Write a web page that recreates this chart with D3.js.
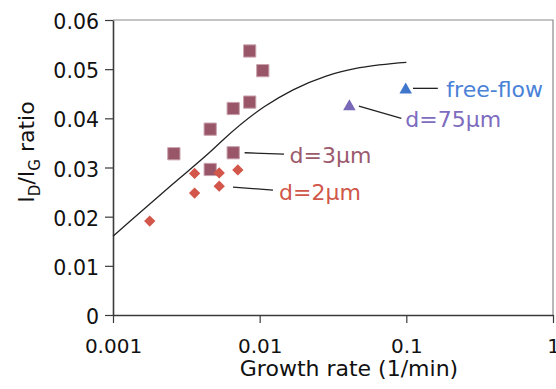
<!DOCTYPE html>
<html lang="en">
<head>
<meta charset="UTF-8">
<script src="https://d3js.org/d3.v7.min.js"></script>
<style>
  body { margin: 0; background: #fff; }
  text { font-family: "DejaVu Sans", sans-serif; }
</style>
<title>ID/IG ratio</title>
</head>
<body>
<div class="canvas"></div>
<script>
// data
const squareX = [0.00855, 0.0105, 0.00855, 0.0066, 0.0046, 0.0026, 0.0066, 0.0046]
const squareY = [0.0537, 0.0497, 0.0433, 0.0420, 0.0378, 0.0328, 0.0330, 0.0296]
const diamondX = [0.00178, 0.0036, 0.0036, 0.0053, 0.0053, 0.0071]
const diamondY = [0.0191, 0.0288, 0.0248, 0.0289, 0.0262, 0.0295]
const freeFlowX = [0.099]
const freeFlowY = [0.0458]
const d75X = [0.0409]
const d75Y = [0.0424]
const modelX = [0.001, 0.0013, 0.0025, 0.00481, 0.00562, 0.0108, 0.0169, 0.0284, 0.0481, 0.1]
const modelY = [0.016, 0.019, 0.0264, 0.0337, 0.0356, 0.0424, 0.0458, 0.0486, 0.0503, 0.0514]
const xTicks = [0.001, 0.01, 0.1, 1]
const xTickLabels = ['0.001', '0.01', '0.1', '1']
const yTicks = [0, 0.01, 0.02, 0.03, 0.04, 0.05, 0.06]
const yTickLabels = ['0', '0.01', '0.02', '0.03', '0.04', '0.05', '0.06']

// labels with leader lines, in data units
const labelText = ['free-flow', 'd=75μm', 'd=3μm', 'd=2μm']
const labelX = [0.1875, 0.0985, 0.0160, 0.01355]
const labelY = [0.0443, 0.0382, 0.0309, 0.0234]
const leadX1 = [0.111, 0.0475, 0.0079, 0.00658]
const leadY1 = [0.0461, 0.0425, 0.0330, 0.0260]
const leadX2 = [0.164, 0.0925, 0.01466, 0.01233]
const leadY2 = [0.0461, 0.0400, 0.0327, 0.0254]
const labelColor = ['#4a82d8', '#7d6cc0', '#9c5a6e', '#d0574a']

const W = 556, H = 389
const [mt, mr, mb, ml] = [20, 3, 74, 113]

const svg = d3.select('.canvas').append('svg')
  .attr('width', W).attr('height', H)

const x = d3.scaleLog().domain([0.001, 1]).range([ml, W - mr])
const y = d3.scaleLinear().domain([0, 0.06]).range([H - mb, mt])

// frame top / right
svg.append('path')
  .attr('d', `M${x(0.001)},${y(0.06)}H${x(1)}V${y(0)}`)
  .attr('fill', 'none').attr('stroke', '#8a8a8a').attr('stroke-width', 1.2)

const xAxisG = svg.append('g').attr('transform', `translate(0,${y(0)})`)
  .call(d3.axisBottom(x).tickValues(xTicks).tickSize(8).tickSizeOuter(0)
    .tickFormat((d, i) => xTickLabels[i]))
const yAxisG = svg.append('g').attr('transform', `translate(${x(0.001)},0)`)
  .call(d3.axisLeft(y).tickValues(yTicks).tickSize(8).tickSizeOuter(0)
    .tickFormat((d, i) => yTickLabels[i]))

svg.selectAll('.domain').attr('stroke', '#3a3a3a').attr('stroke-width', 1.6)
svg.selectAll('.tick line').attr('stroke', '#3a3a3a').attr('stroke-width', 1.2)
xAxisG.selectAll('text').attr('y', 24).attr('dy', '0.71em')
  .style('font-size', '20px').attr('fill', '#111')
yAxisG.selectAll('text').attr('x', -14).attr('dy', '0.42em')
  .style('font-size', '20.5px').attr('fill', '#111')

// axis titles
svg.append('text')
  .attr('x', 349).attr('y', 376)
  .attr('text-anchor', 'middle')
  .style('font-size', '22px').attr('fill', '#111')
  .text('Growth rate (1/min)')

const yTitle = svg.append('text')
  .attr('transform', 'translate(34,152) rotate(-90)')
  .attr('text-anchor', 'middle')
  .style('font-size', '22px').attr('fill', '#111')
yTitle.append('tspan').text('I')
yTitle.append('tspan').text('D').attr('dy', 6).style('font-size', '15px')
yTitle.append('tspan').text('/I').attr('dy', -6)
yTitle.append('tspan').text('G').attr('dy', 6).style('font-size', '15px')
yTitle.append('tspan').text(' ratio').attr('dy', -6)

// model curve
const line = d3.line()
  .x(d => x(d[0]))
  .y(d => y(d[1]))
  .curve(d3.curveMonotoneX)
svg.append('path')
  .attr('d', line(modelX.map((v, i) => [v, modelY[i]])))
  .attr('fill', 'none').attr('stroke', '#222').attr('stroke-width', 1.3)

// markers
svg.selectAll('.sq').data(squareX).enter().append('path')
  .attr('class', 'sq')
  .attr('d', d3.symbol(d3.symbolSquare, 150))
  .attr('transform', (d, i) => `translate(${x(d)},${y(squareY[i])})`)
  .attr('fill', '#9a5669').attr('stroke', '#c9a3ae').attr('stroke-width', 1)

svg.selectAll('.dm').data(diamondX).enter().append('path')
  .attr('class', 'dm')
  .attr('d', d3.symbol(d3.symbolSquare, 64))
  .attr('transform', (d, i) => `translate(${x(d)},${y(diamondY[i])}) rotate(45)`)
  .attr('fill', '#d2574a')

svg.selectAll('.ff').data(freeFlowX).enter().append('path')
  .attr('class', 'ff')
  .attr('d', d3.symbol(d3.symbolTriangle, 68))
  .attr('transform', (d, i) => `translate(${x(d)},${y(freeFlowY[i])})`)
  .attr('fill', '#3f76cc')

svg.selectAll('.d75').data(d75X).enter().append('path')
  .attr('class', 'd75')
  .attr('d', d3.symbol(d3.symbolTriangle, 68))
  .attr('transform', (d, i) => `translate(${x(d)},${y(d75Y[i])})`)
  .attr('fill', '#7a68b8')

// leader lines and labels
svg.selectAll('.lead').data(labelText).enter().append('line')
  .attr('class', 'lead')
  .attr('x1', (d, i) => x(leadX1[i])).attr('y1', (d, i) => y(leadY1[i]))
  .attr('x2', (d, i) => x(leadX2[i])).attr('y2', (d, i) => y(leadY2[i]))
  .attr('stroke', '#222').attr('stroke-width', 1.3)

svg.selectAll('.lbl').data(labelText).enter().append('text')
  .attr('class', 'lbl')
  .attr('x', (d, i) => x(labelX[i])).attr('y', (d, i) => y(labelY[i]))
  .attr('fill', (d, i) => labelColor[i])
  .style('font-size', '22px')
  .text(d => d)
</script>
</body>
</html>
